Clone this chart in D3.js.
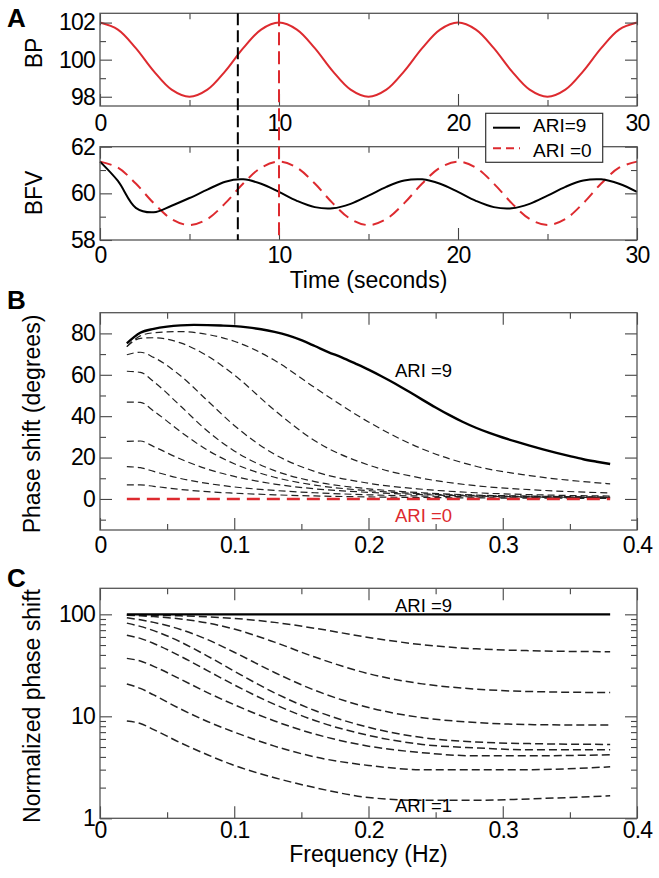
<!DOCTYPE html>
<html>
<head>
<meta charset="utf-8">
<script src="https://cdn.jsdelivr.net/npm/d3@7"></script>
<style>
body { margin: 0; background: #fff; }
</style>
</head>
<body>
<script>
// values
var timeSec = [0,1,2,3,4,5,6,7,8,9,10,11,12,13,14,15,16,17,18,19,20,21,22,23,24,25,26,27,28,29,30];
var bpMmHg = [102,101.62,100.62,99.38,98.38,98,98.38,99.38,100.62,101.62,
	102,101.62,100.62,99.38,98.38,98,98.38,99.38,100.62,101.62,
	102,101.62,100.62,99.38,98.38,98,98.38,99.38,100.62,101.62,102];
var bfvAri9 = [61.36,60.53,59.38,59.19,59.47,59.80,60.16,60.50,60.60,60.41,
	60.06,59.68,59.41,59.36,59.55,59.90,60.28,60.55,60.60,60.41,
	60.06,59.68,59.41,59.36,59.55,59.90,60.28,60.55,60.60,60.41,60.06];
var bfvAri0 = [61.36,61.10,60.42,59.58,58.90,58.64,58.90,59.58,60.42,61.10,
	61.36,61.10,60.42,59.58,58.90,58.64,58.90,59.58,60.42,61.10,
	61.36,61.10,60.42,59.58,58.90,58.64,58.90,59.58,60.42,61.10,61.36];
var markerTimes = [7.7, 10];

// the solid ARI=9 curve in B, read at a finer step
var freqAri9 = [0.02,0.03,0.04,0.05,0.06,0.07,0.08,0.09,0.10,0.11,0.12,0.13,0.14,0.15,0.16,0.17,0.18,0.19,
	0.20,0.21,0.22,0.23,0.24,0.25,0.26,0.27,0.28,0.29,0.30,0.31,0.32,0.33,0.34,0.35,0.36,0.37,0.38];
var phaseAri9 = [75.2,80.3,82.2,83.3,83.9,84.1,84.0,83.8,83.5,82.9,82.0,80.7,79.0,76.7,73.9,71.0,68.4,65.5,
	62.5,59.2,55.7,51.9,48.0,44.2,40.6,37.3,34.4,31.9,29.7,27.7,25.8,24.0,22.3,20.7,19.2,18.0,16.9];

var freqHz = [0.02,0.03,0.04,0.06,0.08,0.10,0.13,0.16,0.20,0.24,0.28,0.32,0.38];
var phaseAri8 = [73.6,78.8,80.3,80.9,79.5,76.2,67.0,53.8,37.2,24.2,15.8,11.3,7.3];
var phaseAri7 = [73.6,77.6,77.9,75.4,69.1,59.9,42.9,28.1,16.4,10.0,6.4,4.5,2.9];
var phaseAri6 = [69.7,70.9,68.4,59.5,47.5,35.5,21.6,13.3,7.6,4.7,3.0,2.1,1.4];
var phaseAri5 = [61.7,61.2,56.7,44.9,32.8,23.2,13.7,8.4,4.9,3.0,1.9,1.4,0.9];
var phaseAri4 = [46.8,46.7,42.5,32.5,23.6,17.0,10.5,6.7,4.0,2.5,1.7,1.2,0.8];
var phaseAri3 = [27.8,28.0,25.3,19.3,14.4,10.9,7.2,4.9,3.2,2.1,1.4,1.0,0.7];
var phaseAri2 = [15.6,15.1,13.3,9.9,7.5,5.8,4.1,3.0,2.0,1.4,1.0,0.8,0.55];
var phaseAri1 = [6.8,6.8,6.1,4.6,3.5,2.8,2.0,1.45,1.0,0.7,0.5,0.4,0.28];
var phaseAri0 = [0,0,0,0,0,0,0,0,0,0,0,0,0];

var normAri9 = [100,100,100,100,100,100,100,100,100,100,100,100,100];
var normAri8 = [97.9,98.1,97.9,96.7,94.6,91.2,83.4,73.0,59.4,50.4,45.9,44.0,43.0];
var normAri7 = [97.9,96.6,95.0,90.1,82.3,71.7,53.4,38.1,26.2,20.8,18.5,17.5,17.1];
var normAri6 = [92.7,88.3,83.4,71.1,56.6,42.5,26.9,18.0,12.2,9.7,8.7,8.3,8.2];
var normAri5 = [82.0,76.2,69.2,53.6,39.0,27.7,17.0,11.4,7.8,6.2,5.6,5.4,5.3];
var normAri4 = [62.3,58.1,51.8,38.8,28.1,20.3,13.1,9.1,6.5,5.3,4.9,4.7,4.7];
var normAri3 = [37.0,34.9,30.9,23.1,17.1,13.0,9.0,6.7,5.1,4.4,4.1,4.1,4.2];
var normAri2 = [20.7,18.8,16.2,11.8,8.9,7.0,5.1,4.0,3.3,3.0,3.0,3.0,3.2];
var normAri1 = [9.0,8.5,7.4,5.5,4.2,3.3,2.5,2.0,1.6,1.5,1.5,1.55,1.66];

// ticks
var timeTicks = [0,10,20,30], timeMinor = [5,15,25];
var bpTicks = [98,100,102], bpMinor = [99,101];
var bfvTicks = [58,60,62], bfvMinor = [59,61];
var freqTicks = [0,0.1,0.2,0.3,0.4], freqMinor = [0.05,0.15,0.25,0.35];
var phaseTicks = [0,20,40,60,80], phaseMinor = [-10,10,30,50,70];
var normTicks = [1,10,100], normMinor = [2,3,4,5,6,7,8,9,20,30,40,50,60,70,80,90];

var fontFamily = '"Liberation Sans", Arial, Helvetica, sans-serif';
var red = "#dd2a2f";
var axisColor = "#444";

var svg = d3.select("body").append("svg").attr("width", 659).attr("height", 878)
	.style("font-family", fontFamily);
svg.append("rect").attr("width", 659).attr("height", 878).attr("fill", "#fff");

var xTime = d3.scaleLinear().domain([0, 30]).range([100, 637]);
var yBP = d3.scaleLinear().domain([97.5, 102.5]).range([106, 13.3]);
var yBFV = d3.scaleLinear().domain([58, 62]).range([240, 146.7]);
var xFreq = d3.scaleLinear().domain([0, 0.4]).range([100, 637]);
var yPhase = d3.scaleLinear().domain([-15, 90]).range([530, 312.7]);
var yNorm = d3.scaleLog().domain([1, 180]).range([818.3, 588.3]);

function styleAxis(g){
	g.select(".domain").remove();
	g.attr("font-size", 23).attr("font-family", fontFamily).attr("letter-spacing", "-0.8px");
	g.selectAll(".tick line").attr("stroke", axisColor).attr("stroke-width", 1.1);
	g.selectAll(".tick text").attr("fill", "#000");
}

function addAxes(x, y, xMajor, xMinor, yMajor, yMinor, xPad){
	var left = x.range()[0], right = x.range()[1];
	var bottom = y.range()[0], top = y.range()[1];
	var lab = function(d){ return d; };
	styleAxis(svg.append("g").attr("transform", "translate(0," + bottom + ")")
		.call(d3.axisBottom(x).tickValues(xMajor).tickSizeInner(-12).tickSizeOuter(0).tickPadding(xPad).tickFormat(lab)));
	styleAxis(svg.append("g").attr("transform", "translate(0," + bottom + ")")
		.call(d3.axisBottom(x).tickValues(xMinor).tickSizeInner(-6).tickSizeOuter(0).tickFormat("")));
	styleAxis(svg.append("g").attr("transform", "translate(0," + top + ")")
		.call(d3.axisTop(x).tickValues(xMajor).tickSizeInner(-12).tickSizeOuter(0).tickFormat("")));
	styleAxis(svg.append("g").attr("transform", "translate(0," + top + ")")
		.call(d3.axisTop(x).tickValues(xMinor).tickSizeInner(-6).tickSizeOuter(0).tickFormat("")));
	styleAxis(svg.append("g").attr("transform", "translate(" + left + ",0)")
		.call(d3.axisLeft(y).tickValues(yMajor).tickSizeInner(-12).tickSizeOuter(0).tickPadding(5).tickFormat(lab)));
	styleAxis(svg.append("g").attr("transform", "translate(" + left + ",0)")
		.call(d3.axisLeft(y).tickValues(yMinor).tickSizeInner(-6).tickSizeOuter(0).tickFormat("")));
	styleAxis(svg.append("g").attr("transform", "translate(" + right + ",0)")
		.call(d3.axisRight(y).tickValues(yMajor).tickSizeInner(-12).tickSizeOuter(0).tickFormat("")));
	styleAxis(svg.append("g").attr("transform", "translate(" + right + ",0)")
		.call(d3.axisRight(y).tickValues(yMinor).tickSizeInner(-6).tickSizeOuter(0).tickFormat("")));
	svg.append("rect").attr("x", left).attr("y", top)
		.attr("width", right - left).attr("height", bottom - top)
		.attr("fill", "none").attr("stroke", "#555").attr("stroke-width", 1.3);
}

function drawLine(x, y, xs, ys, color, width, dash, curve){
	var line = d3.line()
		.x(function(d, i){ return x(xs[i]); })
		.y(function(d){ return y(d); })
		.curve(curve);
	svg.append("path").attr("d", line(ys))
		.attr("fill", "none").attr("stroke", color).attr("stroke-width", width)
		.attr("stroke-dasharray", dash);
}

function addText(str, x, y, size, opts){
	opts = opts || {};
	var t = svg.append("text").attr("x", x).attr("y", y).attr("font-size", size)
		.attr("fill", opts.fill || "#000").text(str);
	if (opts.anchor) t.attr("text-anchor", opts.anchor);
	if (opts.weight) t.attr("font-weight", opts.weight);
	return t;
}

function addYTitle(str, x, cy){
	svg.append("text").attr("transform", "translate(" + x + "," + cy + ") rotate(-90)")
		.attr("text-anchor", "middle").attr("font-size", 23).attr("fill", "#000").text(str);
}

var smooth = d3.curveCatmullRom.alpha(0.5);

// panel A, BP
drawLine(xTime, yBP, timeSec, bpMmHg, red, 2, null, smooth);
addAxes(xTime, yBP, timeTicks, timeMinor, bpTicks, bpMinor, 9);

// panel A, BFV
drawLine(xTime, yBFV, timeSec, bfvAri0, red, 2, "12,7", smooth);
drawLine(xTime, yBFV, timeSec, bfvAri9, "#000", 2, null, smooth);
addAxes(xTime, yBFV, timeTicks, timeMinor, bfvTicks, bfvMinor, 7);

// vertical markers across both A plots
svg.selectAll(".marker").data(markerTimes).enter().append("line")
	.attr("x1", function(d){ return xTime(d); }).attr("x2", function(d){ return xTime(d); })
	.attr("y1", yBP(102.5)).attr("y2", yBFV(58))
	.attr("stroke", function(d, i){ return i === 0 ? "#000" : red; })
	.attr("stroke-width", 2)
	.attr("stroke-dasharray", function(d, i){ return i === 0 ? "12,5" : "13,6"; });

// legend
var lg = svg.append("g");
lg.append("rect").attr("x", 485.7).attr("y", 113.3).attr("width", 117).attr("height", 49)
	.attr("fill", "#fff").attr("stroke", "#333").attr("stroke-width", 1.2);
lg.append("line").attr("x1", 493).attr("x2", 520).attr("y1", 127.7).attr("y2", 127.7)
	.attr("stroke", "#000").attr("stroke-width", 2);
lg.append("line").attr("x1", 493).attr("x2", 520).attr("y1", 148.3).attr("y2", 148.3)
	.attr("stroke", red).attr("stroke-width", 2).attr("stroke-dasharray", "8,5");
addText("ARI=9", 533, 132, 19);
addText("ARI =0", 533, 156.5, 19);

addText("A", 7, 27, 26, {weight: "bold"});
addYTitle("BP", 42, 53);
addYTitle("BFV", 42, 193);
addText("Time (seconds)", 368.5, 288, 23, {anchor: "middle"});

// panel B, phase shift
var phaseDashed = [phaseAri8, phaseAri7, phaseAri6, phaseAri5, phaseAri4, phaseAri3, phaseAri2, phaseAri1];
phaseDashed.forEach(function(vals){
	drawLine(xFreq, yPhase, freqHz, vals, "#222", 1.2, "7,4", d3.curveMonotoneX);
});
drawLine(xFreq, yPhase, freqHz, phaseAri0, red, 2.6, "13,7", d3.curveMonotoneX);
drawLine(xFreq, yPhase, freqAri9, phaseAri9, "#000", 2.4, null, d3.curveMonotoneX);
addAxes(xFreq, yPhase, freqTicks, freqMinor, phaseTicks, phaseMinor, 7);
addText("ARI =9", 395, 377, 18.5);
addText("ARI =0", 395, 521.5, 18.5, {fill: red});
addText("B", 7, 309, 26, {weight: "bold"});
addYTitle("Phase shift (degrees)", 40, 424);

// panel C, normalized phase shift
var normDashed = [normAri8, normAri7, normAri6, normAri5, normAri4, normAri3, normAri2, normAri1];
normDashed.forEach(function(vals){
	drawLine(xFreq, yNorm, freqHz, vals, "#222", 1.5, "8,4", d3.curveMonotoneX);
});
drawLine(xFreq, yNorm, freqHz, normAri9, "#000", 2.4, null, d3.curveMonotoneX);
addAxes(xFreq, yNorm, freqTicks, freqMinor, normTicks, normMinor, 3);
addText("ARI =9", 395, 611.5, 18.5);
addText("ARI =1", 395, 812, 18.5);
addText("C", 7, 587, 26, {weight: "bold"});
addYTitle("Normalized phase shift", 40, 706);
addText("Frequency (Hz)", 368.5, 862, 23, {anchor: "middle"});
</script>
</body>
</html>
